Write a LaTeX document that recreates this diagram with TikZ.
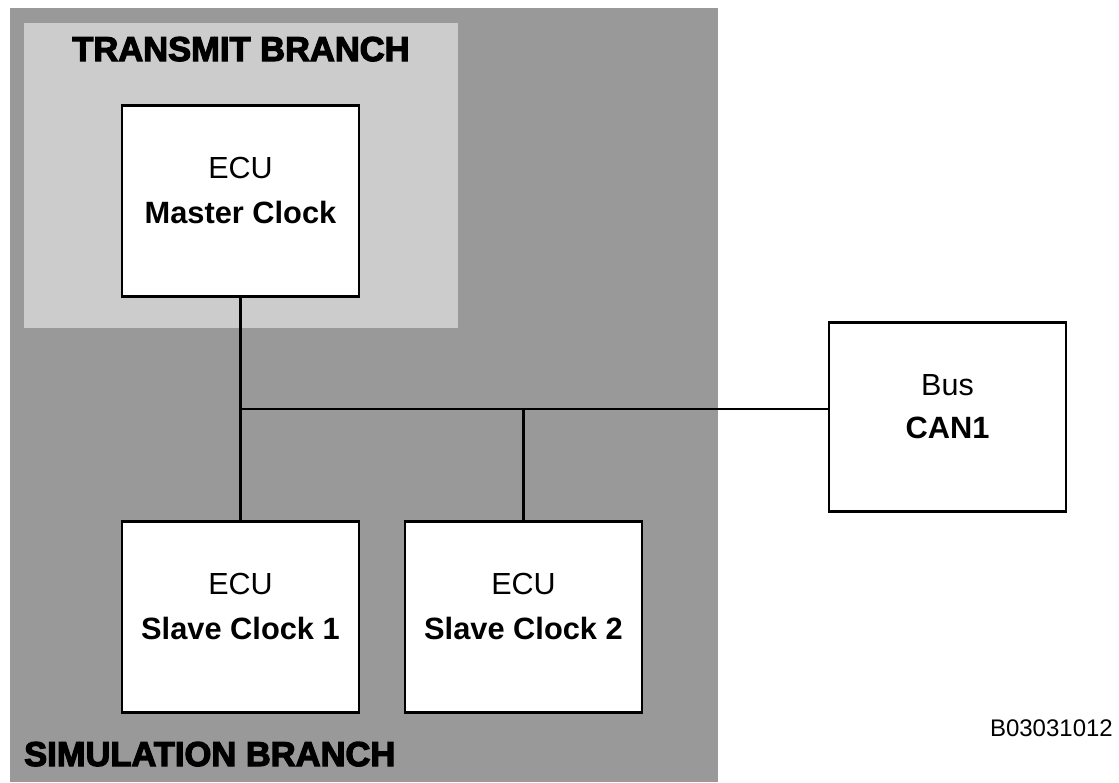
\documentclass[tikz,border=0pt]{standalone}
\usepackage{fontspec}
\setmainfont{Liberation Sans}
\newfontfamily\heavyfont[BoldFeatures={FakeBold=3.5}]{Liberation Sans}
\definecolor{darkbg}{HTML}{999999}
\definecolor{lightbg}{HTML}{CCCCCC}
\tikzset{
  ecubox/.style={draw=black, line width=2.8pt, fill=white, minimum width=237pt, minimum height=191pt, inner sep=0pt},
  line1/.style={font=\fontsize{30.5}{36}\selectfont, anchor=base, inner sep=0pt},
  line2/.style={font=\fontsize{30.8}{36}\selectfont\bfseries, anchor=base, inner sep=0pt},
  heading/.style={font=\fontsize{34.5}{40}\selectfont\heavyfont\bfseries, anchor=base, inner sep=0pt},
  wire/.style={draw=black, line width=2.8pt}
}
\begin{document}
\begin{tikzpicture}[x=1pt,y=-1pt]
\useasboundingbox (0,0) rectangle (1119,782);
\fill[white] (0,0) rectangle (1119,782);
\fill[darkbg] (10,8) rectangle (718,782);
\fill[lightbg] (24,23) rectangle (458,328);
\node[heading] (th) at (241,61) {TRANSMIT BRANCH};
\node[heading, anchor=base west] (sh) at (24,766) {SIMULATION BRANCH};

\node[ecubox] (m) at (240.5,201) {};
\node[ecubox] (s1) at (240.5,617) {};
\node[ecubox] (s2) at (523.5,617) {};
\node[ecubox, minimum height=189pt] (bus) at (947.5,417) {};

\coordinate (j1) at (240.5,409);
\coordinate (j2) at (523.5,409);
\draw[wire] (m.south) -- (j1);
\draw[wire] (j1) -- (s1.north);
\draw[wire] (j1) -- (bus.west |- j1);
\draw[wire] (j2) -- (s2.north);

\node[line1] (mt1) at ([yshift=22.5pt]m.center) {ECU};
\node[line2] (mt2) at ([yshift=-22.5pt]m.center) {Master Clock};
\node[line1] (s1t1) at ([yshift=22.5pt]s1.center) {ECU};
\node[line2] (s1t2) at ([yshift=-22.5pt]s1.center) {Slave Clock 1};
\node[line1] (s2t1) at ([yshift=22.5pt]s2.center) {ECU};
\node[line2] (s2t2) at ([yshift=-22.5pt]s2.center) {Slave Clock 2};
\node[line1] (bt1) at ([yshift=21.5pt]bus.center) {Bus};
\node[line2] (bt2) at ([yshift=-21.5pt]bus.center) {CAN1};

\node[anchor=base east, inner sep=0pt, font=\fontsize{24}{28}\selectfont] (code) at (1113,736.5) {B03031012};
\end{tikzpicture}
\end{document}
